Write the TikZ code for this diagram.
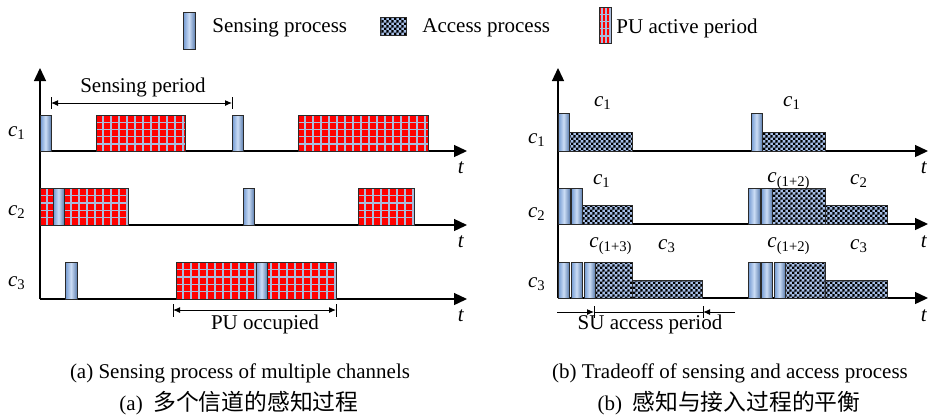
\documentclass[tikz,border=0pt]{standalone}
\usepackage{fontspec}
\setmainfont{Liberation Serif}
\newfontfamily\cjkfont{Noto Sans CJK SC}
\usetikzlibrary{arrows.meta,patterns}
\pgfdeclarepatternformonly{finecheck}{\pgfpointorigin}{\pgfqpoint{2.4pt}{2.4pt}}{\pgfqpoint{2.4pt}{2.4pt}}{%
  \pgfpathrectangle{\pgfpointorigin}{\pgfqpoint{1.2pt}{1.2pt}}%
  \pgfpathrectangle{\pgfqpoint{1.2pt}{1.2pt}}{\pgfqpoint{1.2pt}{1.2pt}}%
  \pgfusepath{fill}}
\definecolor{pured}{HTML}{FF0000}
\definecolor{gridblue}{HTML}{A9BCDD}
\definecolor{accblue}{HTML}{A6BEE6}
\definecolor{senslight}{HTML}{CCDDF5}
\definecolor{sensdark}{HTML}{6E96D0}
\definecolor{blkedge}{HTML}{2A2A2A}
\newcommand{\chn}[1]{\textit{c}\textsubscript{#1}}
\tikzset{
  axisline/.style={line width=0.65pt,-{Triangle[length=6.5pt,width=6pt]}},
  dimline/.style={line width=0.5pt},
  dimtip/.style={line width=0.5pt,-{Latex[length=3.5pt,width=3pt]}},
  blockborder/.style={draw=blkedge,line width=0.5pt},
  gridline/.style={draw=gridblue,line width=0.7pt},
  lbl/.style={inner sep=0pt,font=\fontsize{10.5}{12}\selectfont},
  cjklbl/.style={inner sep=0pt,font=\fontsize{10.5}{12}\selectfont}
}
\newcommand{\sensblk}[4]{%
  \shade[left color=sensdark,right color=sensdark!85!black,middle color=senslight] (#1,#3) rectangle (#2,#4);
  \draw[blockborder] (#1,#3) rectangle (#2,#4);}
\newcommand{\publk}[5]{%
  \fill[pured] (#1,#3) rectangle (#2,#4);
  \begin{scope}
    \clip (#1,#3) rectangle (#2,#4);
    \foreach \k in {1,...,25}{\draw[gridline] ({#1+#5*\k-1},#3) -- ({#1+#5*\k-1},#4);}
    \foreach \k in {1,...,4}{\draw[gridline] (#1,{#3+(#4-#3)*\k/5}) -- (#2,{#3+(#4-#3)*\k/5});}
  \end{scope}
  \draw[blockborder] (#1,#3) rectangle (#2,#4);}
\newcommand{\accblk}[4]{%
  \fill[accblue] (#1,#3) rectangle (#2,#4);
  \fill[pattern=finecheck,pattern color=black] (#1,#3) rectangle (#2,#4);
  \draw[blockborder] (#1,#3) rectangle (#2,#4);}
\begin{document}
\begin{tikzpicture}[x=0.5pt,y=-0.5pt]
\useasboundingbox[fill=white] (0,0) rectangle (929,414);

% ---------------- legend ----------------
\sensblk{183}{195}{12}{49}
\node[lbl,anchor=west] (lgs) at (212,28) {Sensing process};
\accblk{380}{406}{17}{35}
\node[lbl,anchor=west] (lga) at (422,28) {Access process};
\publk{599}{611}{7}{43}{4}
\node[lbl,anchor=west] (lgp) at (616,28) {PU active period};

% ---------------- left panel (a) ----------------
\coordinate (Lorig) at (40,299);
\coordinate (Ltop) at (40,68);
\coordinate (L1s) at (40,151); \coordinate (L1e) at (467,151);
\coordinate (L2s) at (40,225); \coordinate (L2e) at (467,225);
\coordinate (L3s) at (40,299); \coordinate (L3e) at (467,299);
\draw[axisline] (Lorig) -- (Ltop);
\draw[axisline] (L1s) -- (L1e);
\draw[axisline] (L2s) -- (L2e);
\draw[axisline] (L3s) -- (L3e);

% c1
\sensblk{40}{51}{115}{151}
\publk{96}{185}{115}{151}{8}
\sensblk{232}{243}{115}{151}
\publk{298}{428}{115}{151}{8}
% c2
\publk{40}{128}{188}{225}{8}
\sensblk{53}{64}{188}{225}
\sensblk{243}{254}{188}{225}
\publk{358}{414}{188}{225}{8}
% c3
\sensblk{65}{77}{262}{299}
\publk{176}{336}{262}{299}{8}
\sensblk{256}{267}{262}{299}

\node[lbl] (La1) at (17,133) {\chn{1}};
\node[lbl] (La2) at (17,212) {\chn{2}};
\node[lbl] (La3) at (17,283) {\chn{3}};
\node[lbl] (Lt1) at (461,168) {\textit{t}};
\node[lbl] (Lt2) at (461,242) {\textit{t}};
\node[lbl] (Lt3) at (461,316) {\textit{t}};

% sensing period
\coordinate (spA) at (51,103); \coordinate (spB) at (232,103);
\draw[dimline] (51,97) -- (51,109);
\draw[dimline] (232,97) -- (232,109);
\draw[dimtip,{Latex[length=3.5pt,width=3pt]}-{Latex[length=3.5pt,width=3pt]}] (spA) -- (spB);
\node[lbl] (spL) at (143,87) {Sensing period};

% PU occupied
\coordinate (puA) at (173,310); \coordinate (puB) at (336,310);
\draw[dimline] (173,304) -- (173,317);
\draw[dimline] (336,304) -- (336,317);
\draw[dimtip,{Latex[length=3.5pt,width=3pt]}-{Latex[length=3.5pt,width=3pt]}] (puA) -- (puB);
\node[lbl] (puL) at (265,324) {PU occupied};

% ---------------- right panel (b) ----------------
\coordinate (Rorig) at (558,298);
\coordinate (Rtop) at (558,68);
\coordinate (R1s) at (558,151); \coordinate (R1e) at (928,151);
\coordinate (R2s) at (558,224); \coordinate (R2e) at (928,224);
\coordinate (R3s) at (558,298); \coordinate (R3e) at (928,298);
\draw[axisline] (Rorig) -- (Rtop);
\draw[axisline] (R1s) -- (R1e);
\draw[axisline] (R2s) -- (R2e);
\draw[axisline] (R3s) -- (R3e);

% c1 row
\sensblk{558}{569}{113}{151}
\accblk{569}{632}{132}{151}
\sensblk{751}{762}{113}{151}
\accblk{762}{825}{132}{151}
% c2 row
\sensblk{558}{570}{188}{224}
\sensblk{571}{582}{188}{224}
\accblk{582}{632}{205}{224}
\sensblk{748}{760}{188}{224}
\sensblk{761}{772}{188}{224}
\accblk{772}{825}{188}{224}
\accblk{825}{887}{205}{224}
% c3 row
\sensblk{558}{569}{262}{298}
\sensblk{571}{582}{262}{298}
\sensblk{584}{595}{262}{298}
\accblk{595}{632}{262}{298}
\accblk{632}{702}{280}{298}
\sensblk{748}{760}{262}{298}
\sensblk{761}{772}{262}{298}
\sensblk{774}{785}{262}{298}
\accblk{785}{825}{262}{298}
\accblk{825}{887}{280}{298}

\node[lbl] (Rb1) at (603,103) {\chn{1}};
\node[lbl] (Rb2) at (792,103) {\chn{1}};
\node[lbl] (Rb3) at (602,181) {\chn{1}};
\node[lbl] (Rb4) at (789,181) {\chn{(1+2)}};
\node[lbl] (Rb5) at (859,181) {\chn{2}};
\node[lbl] (Rb6) at (611,246) {\chn{(1+3)}};
\node[lbl] (Rb7) at (667,246) {\chn{3}};
\node[lbl] (Rb8) at (789,246) {\chn{(1+2)}};
\node[lbl] (Rb9) at (859,246) {\chn{3}};

\node[lbl] (Ra1) at (537,140) {\chn{1}};
\node[lbl] (Ra2) at (537,214) {\chn{2}};
\node[lbl] (Ra3) at (537,284) {\chn{3}};
\node[lbl] (Rt1) at (924,168) {\textit{t}};
\node[lbl] (Rt2) at (924,242) {\textit{t}};
\node[lbl] (Rt3) at (924,316) {\textit{t}};

% SU access period
\coordinate (suL) at (557,312); \coordinate (suA) at (594,312);
\coordinate (suB) at (703,312); \coordinate (suR) at (735,312);
\draw[dimline] (suA) -- (suB);
\draw[dimline] (594,306) -- (594,318);
\draw[dimline] (703,306) -- (703,318);
\draw[dimtip] (suL) -- (suA);
\draw[dimtip] (suR) -- (suB);
\node[lbl] (suT) at (650,324) {SU access period};

% ---------------- captions ----------------
\node[lbl] (capa) at (240,373) {(a) Sensing process of multiple channels};
\node[cjklbl] (capac) at (239,403) {(a)\ \ {\cjkfont\fontsize{11.4}{13}\selectfont 多个信道的感知过程}};
\node[lbl] (capb) at (730,373) {(b) Tradeoff of sensing and access process};
\node[cjklbl] (capbc) at (729,403) {(b)\ \ {\cjkfont\fontsize{11.4}{13}\selectfont 感知与接入过程的平衡}};
\end{tikzpicture}
\end{document}
